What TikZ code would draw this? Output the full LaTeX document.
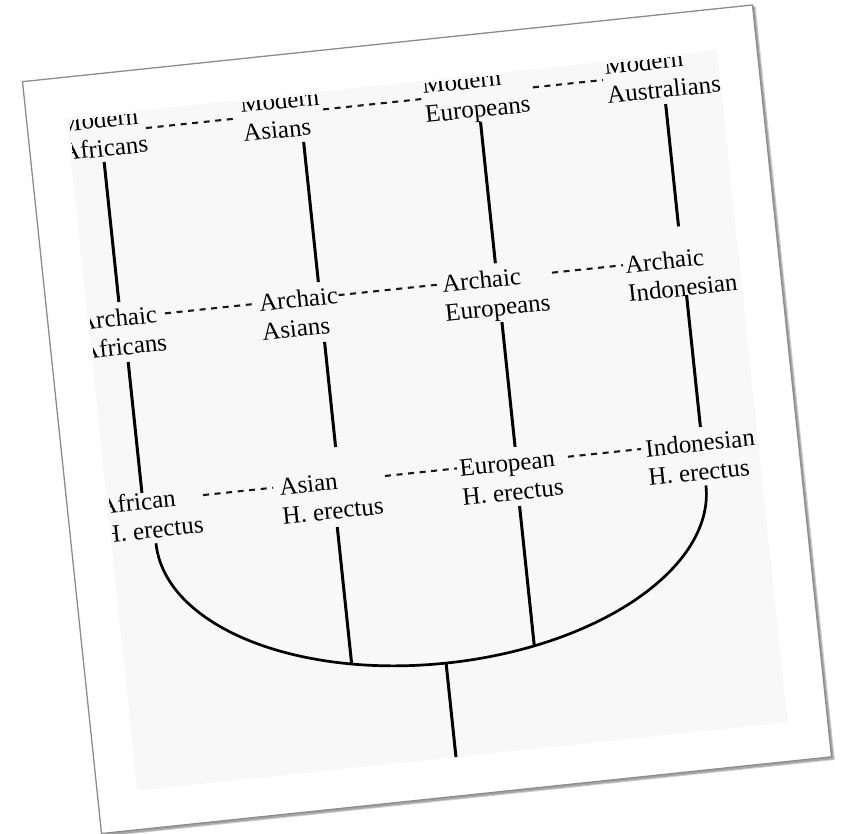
\documentclass[tikz,border=0pt]{standalone}
\usepackage{fontspec}
\setmainfont{Liberation Serif}
\definecolor{innerbg}{HTML}{F8F8F8}
\begin{document}
\begin{tikzpicture}[x=1pt,y=1pt,
  lbl/.style={anchor=base west, align=left, inner sep=0pt,
    font=\fontsize{25}{29}\selectfont, text=black, rotate=6},
  tie/.style={line width=2.1pt, dash pattern=on 6pt off 5.6pt, draw=black!90},
  trunk/.style={line width=3pt, draw=black},
  bowl/.style={line width=2.7pt, draw=black}]
\useasboundingbox (0,0) rectangle (848,-833);
\begin{scope}[shift={(427,-419.25)}, rotate=6]
  % card with shadow
  \fill[black!18] (-364.5,-381.5) rectangle (370,375.5);
  \fill[black!35] (-365.5,-380.5) rectangle (369,376.5);
  \filldraw[fill=white, draw=black!45, line width=1.3pt] (-367,-378) rectangle (367,378);
  \fill[innerbg] (-327,-339) rectangle (327,337);
  \begin{scope}
    \clip (-325,-339) rectangle (327,335);
    % row 1 (anchor = baseline of second line)
    \node[lbl] (ma1) at (-335,295) {Modern\\Africans};
    \node[lbl] (ma2) at (-153,295) {Modern\\Asians};
    \node[lbl] (ma3) at (30,295)   {Modern\\Europeans};
    \node[lbl] (ma4) at (213,295)  {Modern\\Australians};
    % row 2
    \node[lbl] (ar1) at (-337,95.5) {Archaic\\Africans};
    \node[lbl] (ar2) at (-155,95.5) {Archaic\\Asians};
    \node[lbl] (ar3) at (29,95.5)   {Archaic\\Europeans};
    \node[lbl] (ar4) at (213,95.5)  {Archaic\\Indonesian};
    % row 3
    \node[lbl] (he1) at (-335,-89.5) {African\\H. erectus};
    \node[lbl] (he2) at (-154,-89.5) {Asian\\H. erectus};
    \node[lbl] (he3) at (27,-89.5)   {European\\H. erectus};
    \node[lbl] (he4) at (214,-89.5)  {Indonesian\\H. erectus};
    % dashed links
    \draw[tie] (-249,319) -- (-156.5,319);
    \draw[tie] (-71,319) -- (28.5,319);
    \draw[tie] (140,319) -- (210.5,319);
    \draw[tie] (-249.5,132.7) -- (-157,132.7);
    \draw[tie] (-75,132.7) -- (28,132.7);
    \draw[tie] (139.6,132.7) -- (211,132.7);
    \draw[tie] (-230.7,-52) -- (-160.3,-52);
    \draw[tie] (-47.7,-52) -- (24.7,-52);
    \draw[tie] (136.3,-52) -- (209.7,-52);
    % vertical lineages, row 1 to row 2
    \draw[trunk] (-294.2,289.6) -- (-294.2,148.8);
    \draw[trunk] (-93.7,288.7) -- (-93.7,147.8);
    \draw[trunk] (84.3,290) -- (84.3,148);
    \draw[trunk] (270.3,288.5) -- (270.3,165.5);
    % row 2 to row 3
    \draw[trunk] (-291.2,88.2) -- (-291.2,-43.5);
    \draw[trunk] (-93.8,87.6) -- (-93.8,-18.1);
    \draw[trunk] (84.7,88.8) -- (84.7,-36.7);
    \draw[trunk] (271.1,96.4) -- (271.1,-36.2);
    % row 3 to the common root
    \draw[bowl] (-282.5,-95) arc[start angle=180, end angle=360, x radius=276.5, y radius=149.5];
    \draw[trunk] (-100.5,-97.9) -- (-100.5,-235.6);
    \draw[trunk] (83,-96) -- (83,-236.5);
    \draw[trunk] (-6.5,-244.5) -- (-6.5,-340);
  \end{scope}
\end{scope}
\end{tikzpicture}
\end{document}
